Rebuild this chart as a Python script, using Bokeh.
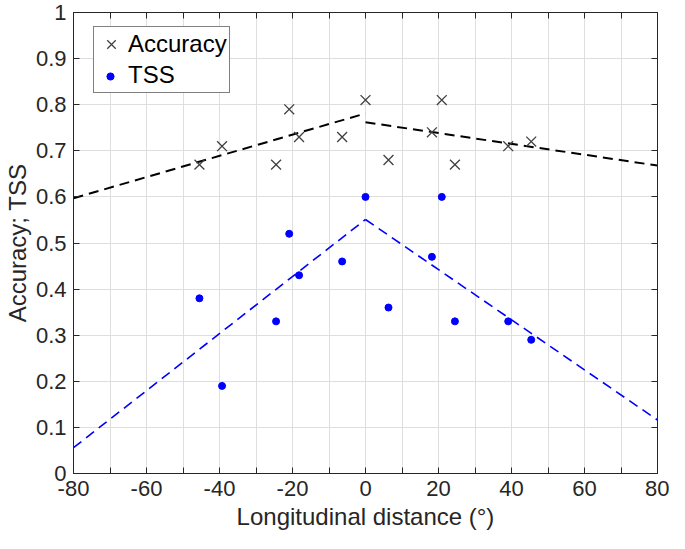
from bokeh.plotting import figure
from bokeh.models import (Range1d, FixedTicker, LinearAxis, Legend, LegendItem,
                          CustomJSTickFormatter)
from bokeh.embed import file_html
from bokeh.resources import INLINE

# ---- data ----
lon = [-45.5, -39.3, -24.5, -20.9, -18.2, -6.4, 0.0, 6.3, 18.2, 20.9, 24.5, 39.1, 45.4]
accuracy = [0.67, 0.71, 0.67, 0.79, 0.73, 0.73, 0.81, 0.68, 0.74, 0.81, 0.67, 0.71, 0.72]
tss = [0.38, 0.19, 0.33, 0.52, 0.43, 0.46, 0.60, 0.36, 0.47, 0.60, 0.33, 0.33, 0.29]

fit_x_west = [-80, 0]
fit_x_east = [0, 80]
acc_fit_west = [0.597, 0.781]
acc_fit_east = [0.762, 0.668]
tss_fit_west = [0.056, 0.551]
tss_fit_east = [0.551, 0.116]

x_ticks = list(range(-80, 81, 10))
y_ticks = [round(0.1 * i, 1) for i in range(11)]

FONT = "Liberation Sans"
TXT = "#262626"

p = figure(width=669, height=533, output_backend="svg", toolbar_location=None,
           x_range=Range1d(-80, 80), y_range=Range1d(0, 1),
           min_border_left=60, min_border_right=12, min_border_top=12,
           min_border_bottom=60)

p.outline_line_color = TXT
p.outline_line_width = 1
p.background_fill_color = "white"

xt = FixedTicker(ticks=x_ticks)
yt = FixedTicker(ticks=y_ticks)

x_fmt = CustomJSTickFormatter(code="return (Math.round(tick) % 20 == 0) ? String(Math.round(tick)) : '';")
y_fmt = CustomJSTickFormatter(code="return String(Math.round(tick*10)/10);")
blank = CustomJSTickFormatter(code="return '';")

for ax, fmt, tk in ((p.xaxis[0], x_fmt, xt), (p.yaxis[0], y_fmt, yt)):
    ax.ticker = tk
    ax.formatter = fmt
    ax.major_tick_in = 6
    ax.major_tick_out = 0
    ax.minor_tick_in = 0
    ax.minor_tick_out = 0
    ax.axis_line_color = TXT
    ax.major_tick_line_color = TXT
    ax.major_label_text_font = FONT
    ax.major_label_text_font_size = "22px"
    ax.major_label_text_color = TXT
    ax.axis_label_text_font = FONT
    ax.axis_label_text_font_size = "24px"
    ax.axis_label_text_font_style = "normal"
    ax.axis_label_text_color = TXT
    ax.major_label_standoff = 7

p.xaxis.axis_label = "Longitudinal distance (°)"
p.yaxis.axis_label = "Accuracy; TSS"
p.xaxis.axis_label_standoff = 4
p.yaxis.axis_label_standoff = 2

top_ax = LinearAxis(ticker=xt, formatter=blank, major_tick_in=6, major_tick_out=0,
                    minor_tick_in=0, minor_tick_out=0, axis_line_color=TXT,
                    major_tick_line_color=TXT, major_label_standoff=0,
                    major_label_text_font_size="1px")
right_ax = LinearAxis(ticker=yt, formatter=blank, major_tick_in=6, major_tick_out=0,
                      minor_tick_in=0, minor_tick_out=0, axis_line_color=TXT,
                      major_tick_line_color=TXT, major_label_standoff=0,
                      major_label_text_font_size="1px")
p.add_layout(top_ax, "above")
p.add_layout(right_ax, "right")

p.xgrid.ticker = xt
p.ygrid.ticker = yt
p.xgrid.grid_line_color = "#dedede"
p.ygrid.grid_line_color = "#dedede"

# fit lines
p.line(fit_x_west, acc_fit_west, line_color="black", line_width=2, line_dash="10 6")
p.line(fit_x_east, acc_fit_east, line_color="black", line_width=2, line_dash="10 6")
p.line(fit_x_west, tss_fit_west, line_color="#0000ff", line_width=1.6, line_dash="10 6")
p.line(fit_x_east, tss_fit_east, line_color="#0000ff", line_width=1.6, line_dash="10 6")

# points
r_acc = p.scatter(lon, accuracy, marker="x", size=14, line_color="#404040", line_width=1.3)
r_tss = p.scatter(lon, tss, marker="circle", size=7, fill_color="#0000ff",
                  line_color="#0000ff")
# invisible twin of the TSS points: reserves the key slot in the boxed legend
r_tss_blank = p.scatter(lon, tss, marker="circle", size=7, fill_alpha=0, line_alpha=0)

legend = Legend(items=[LegendItem(label="Accuracy", renderers=[r_acc]),
                       LegendItem(label="TSS", renderers=[r_tss_blank])],
                location=(20, 380),
                label_text_font=FONT, label_text_font_size="24px",
                label_text_color="black",
                border_line_color="black", border_line_width=1,
                background_fill_color="white", background_fill_alpha=1,
                padding=2, spacing=1, glyph_width=30, glyph_height=30,
                label_height=30, label_standoff=2, margin=0)
p.add_layout(legend, "center")

# small key for TSS drawn on top of the reserved slot (smaller glyph box -> smaller dot)
key = Legend(items=[LegendItem(label=" ", renderers=[r_tss])],
             location=(22, 388),
             label_text_font=FONT, label_text_font_size="1px",
             border_line_color=None, background_fill_alpha=0,
             padding=0, spacing=0, glyph_width=30, glyph_height=18,
             label_height=18, label_standoff=0, margin=0)
p.add_layout(key, "center")

open("out.html", "w").write(file_html(p, INLINE))
